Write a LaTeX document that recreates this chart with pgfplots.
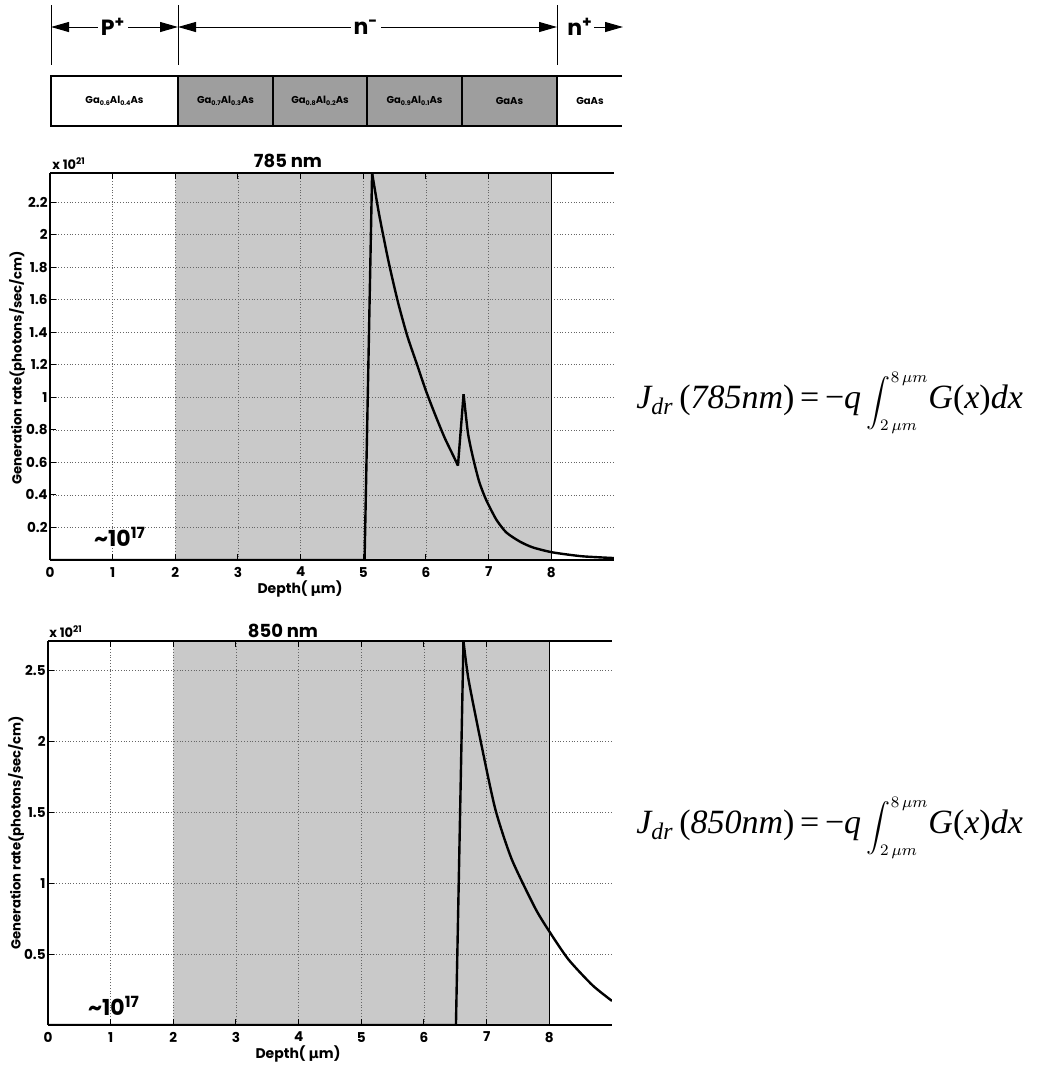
\documentclass[border=0pt]{standalone}
\usepackage{pgfplots}
\pgfplotsset{compat=1.18}
\usepackage{exscale}
\usepackage{fontspec}
\setmainfont{Poppins}
\newfontfamily\dejavu{DejaVu Sans}
\newfontfamily\tms{Liberation Serif}
\usetikzlibrary{arrows.meta}
\newcommand\mum{{\dejavu\bfseries µ}m}
\newcommand\sub[1]{\raisebox{-0.35ex}{\fontsize{3.2}{3.5}\selectfont #1}}

\pgfplotstableread{
x y
0 0
5.02 0
5.14 2.38
}\gtopA
\pgfplotstableread{
x y
5.14 2.38
5.25 2.13
5.40 1.84
5.55 1.59
5.70 1.38
5.85 1.21
6.00 1.04
6.15 0.89
6.30 0.75
6.45 0.63
6.51 0.58
}\gtopB
\pgfplotstableread{
x y
6.51 0.58
6.60 1.02
}\gtopC
\pgfplotstableread{
x y
6.60 1.02
6.67 0.78
6.75 0.63
6.85 0.48
6.96 0.37
7.12 0.25
7.28 0.17
7.49 0.115
7.70 0.078
8.02 0.047
8.49 0.023
9.00 0.012
}\gtopD

\pgfplotstableread{
x y
0 0
6.51 0
6.63 2.71
}\gbotA
\pgfplotstableread{
x y
6.63 2.71
6.71 2.44
6.92 1.97
7.14 1.52
7.40 1.17
7.78 0.82
8.03 0.64
8.31 0.46
8.69 0.28
9.00 0.17
}\gbotB

\definecolor{shade}{gray}{0.79}
\definecolor{hshade}{gray}{0.62}

\pgfplotsset{
  gplot/.style={
    scale only axis,
    set layers,
    xmin=0, xmax=9,
    ymin=0,
    axis x line=box, axis y line=left,
    axis line style={-, line width=0.9pt},
    tick align=inside,
    major tick length=3pt,
    tick style={black, line width=0.5pt},
    xtick={0,1,...,8},
    grid=major,
    major grid style={densely dotted, black!60, line width=0.4pt},
    /pgf/number format/assume math mode=true,
    tick label style={font=\bfseries\fontsize{6.8}{7}\selectfont},
    yticklabel style={inner xsep=1pt},
    scaled y ticks=false,
    clip=true,
  },
  curve/.style={black, line width=1.2pt},
  scurve/.style={black, line width=1.2pt, smooth, tension=0.4},
}

\begin{document}
\begin{tikzpicture}

% header diagram
\begin{scope}[x=0.5pt,y=-0.5pt]
  \fill[hshade] (178,76) rectangle (557,126);
  \draw[line width=1pt] (622,76) -- (51,76) -- (51,126) -- (622,126);
  \foreach \xx in {178,273,367,462,557} \draw[line width=1pt] (\xx,76) -- (\xx,126);
  \foreach \xx in {51,178,557} \draw[line width=0.5pt] (\xx,5) -- (\xx,65);
  \tikzset{hdarr/.style={line width=0.5pt}}
  \draw[hdarr,{Triangle[length=9pt,width=5pt]}-{Triangle[length=9pt,width=5pt]}] (51,27) -- (178,27);
  \draw[hdarr,{Triangle[length=9pt,width=5pt]}-{Triangle[length=9pt,width=5pt]}] (178,27) -- (557,27);
  \draw[hdarr,-{Triangle[length=9pt,width=5pt]}] (594,27) -- (623,27);
  \node[fill=white, inner sep=1.5pt, font=\bfseries\fontsize{11}{12}\selectfont] at (113,27) {P\textsuperscript{+}};
  \node[fill=white, inner sep=1.5pt, font=\bfseries\fontsize{11}{12}\selectfont] at (366,27) {n\textsuperscript{-}};
  \node[inner sep=1.5pt, font=\bfseries\fontsize{11}{12}\selectfont] at (580,27) {n\textsuperscript{+}};
  \tikzset{lay/.style={font=\bfseries\fontsize{5}{6}\selectfont}}
  \node[lay] at (114.5,101) {Ga\sub{0.6}Al\sub{0.4}As};
  \node[lay] at (225.5,101) {Ga\sub{0.7}Al\sub{0.3}As};
  \node[lay] at (320,101) {Ga\sub{0.8}Al\sub{0.2}As};
  \node[lay] at (414.5,101) {Ga\sub{0.9}Al\sub{0.1}As};
  \node[lay] at (509.5,101) {GaAs};
  \node[lay] at (590,101) {GaAs};
\end{scope}

% top plot
\begin{axis}[gplot,
  at={(25pt,-280pt)}, anchor=south west,
  width=282pt, height=193.5pt,
  ymax=2.38,
  ytick={0.2,0.4,...,2.2},
  yticklabels={0.2,0.4,0.6,0.8,1,1.2,1.4,1.6,1.8,2,2.2},
]
\addplot[on layer=axis background, fill=shade, draw=none] coordinates {(2,0) (2,2.38) (8,2.38) (8,0)} \closedcycle;
\addplot[black, line width=0.5pt] coordinates {(8,0) (8,2.38)};
\addplot[curve] table[x=x,y=y] {\gtopA};
\addplot[scurve] table[x=x,y=y] {\gtopB};
\addplot[curve] table[x=x,y=y] {\gtopC};
\addplot[scurve] table[x=x,y=y] {\gtopD};
\end{axis}

% bottom plot
\begin{axis}[gplot,
  at={(24pt,-512.5pt)}, anchor=south west,
  width=282pt, height=192pt,
  ymax=2.71,
  ytick={0.5,1,1.5,2,2.5},
  yticklabels={0.5,1,1.5,2,2.5},
]
\addplot[on layer=axis background, fill=shade, draw=none] coordinates {(2,0) (2,2.71) (8,2.71) (8,0)} \closedcycle;
\addplot[black, line width=0.5pt] coordinates {(8,0) (8,2.71)};
\addplot[curve] table[x=x,y=y] {\gbotA};
\addplot[scurve] table[x=x,y=y] {\gbotB};
\end{axis}

% labels
\begin{scope}[x=0.5pt,y=-0.5pt]
  \tikzset{ttl/.style={font=\bfseries\fontsize{9}{10}\selectfont}}
  \node[ttl] at (288,161) {785 nm};
  \node[ttl] at (283,631) {850 nm};
  \tikzset{sc/.style={font=\bfseries\fontsize{6.5}{7}\selectfont, anchor=south west, inner sep=0pt}}
  \node[sc] at (52,170) {x 10\textsuperscript{21}};
  \node[sc] at (49,638) {x 10\textsuperscript{21}};
  \tikzset{tn/.style={font=\bfseries\fontsize{11}{12}\selectfont}}
  \node[tn] at (120,537) {\textasciitilde 10\textsuperscript{17}};
  \node[tn] at (114,1006) {\textasciitilde 10\textsuperscript{17}};
  \tikzset{xl/.style={font=\bfseries\fontsize{7}{8}\selectfont}}
  \node[xl] at (300,589) {Depth( \mum)};
  \node[xl] at (298,1054) {Depth( \mum)};
  \tikzset{yl/.style={font=\bfseries\fontsize{6.6}{8}\selectfont}}
  \node[yl, rotate=90] at (17,368) {Generation rate(photons/sec/cm)};
  \node[yl, rotate=90] at (16,833) {Generation rate(photons/sec/cm)};
  \tikzset{eq/.style={anchor=west, inner sep=0pt}}
  \node[eq] at (636,403) {\fontsize{17}{21}\selectfont\tms\itshape J\textsubscript{dr}\,\upshape(\itshape 785nm\upshape)\,=\,\textminus\itshape q\,\fontsize{12}{15}\selectfont$\displaystyle\int\nolimits_{2\,\mu m}^{8\,\mu m}$\fontsize{17}{21}\selectfont\itshape G\upshape(\itshape x\upshape)\itshape dx};
  \node[eq] at (636,828) {\fontsize{17}{21}\selectfont\tms\itshape J\textsubscript{dr}\,\upshape(\itshape 850nm\upshape)\,=\,\textminus\itshape q\,\fontsize{12}{15}\selectfont$\displaystyle\int\nolimits_{2\,\mu m}^{8\,\mu m}$\fontsize{17}{21}\selectfont\itshape G\upshape(\itshape x\upshape)\itshape dx};
\end{scope}

\pgfresetboundingbox
\useasboundingbox (0,0) rectangle (523pt,-533.5pt);
\end{tikzpicture}
\end{document}
